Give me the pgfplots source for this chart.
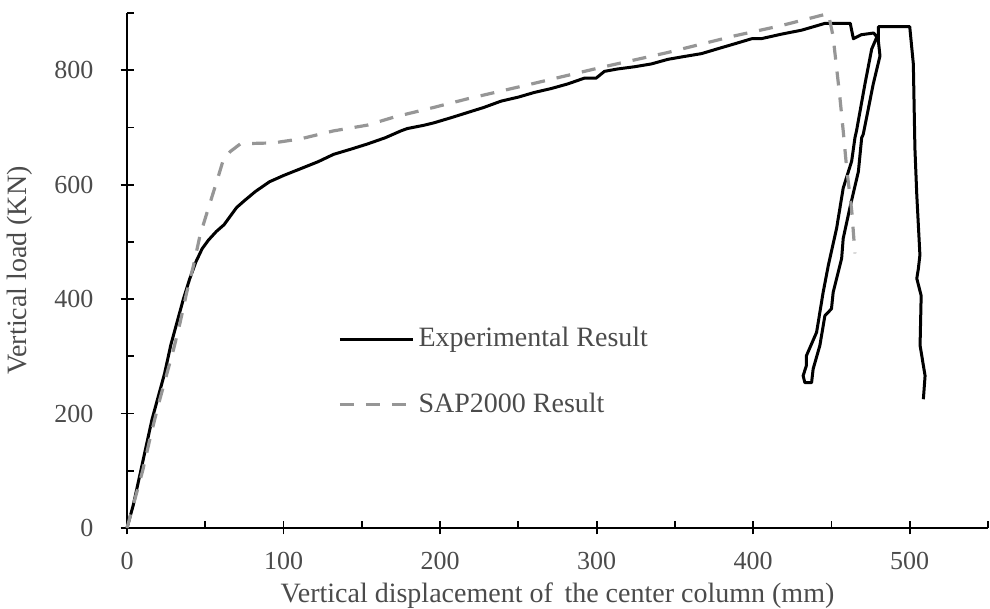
\documentclass[border=0pt]{standalone}
\usepackage{fontspec}
\setmainfont{Liberation Serif}
\usepackage{pgfplots}
\pgfplotsset{compat=1.18}

\definecolor{sapgray}{RGB}{150,150,150}
\definecolor{txtgray}{RGB}{75,75,75}

\begin{document}
\fontsize{13pt}{15pt}\selectfont
\begin{tikzpicture}
\begin{axis}[
  scale only axis,
  width=430.5pt, height=257.5pt,
  xmin=0, xmax=550, ymin=0, ymax=900,
  axis x line*=bottom, axis y line*=left,
  axis line style={-, line width=0.9pt},
  xtick={0,100,...,500}, ytick={0,200,...,800},
  minor xtick={50,150,...,550}, minor ytick={100,300,...,900},
  tick align=center,
  major tick length=6.5pt, minor tick length=3.5pt,
  every tick/.style={black, line width=0.9pt},
  minor x tick style={yshift=1.75pt},
  minor y tick style={xshift=1.75pt},
  tick label style={font=\fontsize{13pt}{15pt}\selectfont, text=txtgray},
  /pgf/number format/assume math mode=true,
  /pgf/number format/1000 sep={},
  xticklabel style={yshift=-4.5pt},
  yticklabel style={xshift=-9pt},
  xlabel={Vertical displacement of\, the center column (mm)},
  ylabel={Vertical load (KN)},
  label style={font=\fontsize{14pt}{16pt}\selectfont, text=txtgray},
  xlabel style={yshift=2.5pt},
  ylabel style={yshift=2pt},
  clip=false,
  legend style={draw=none, fill=none, at={(0.245,0.398)}, anchor=north west,
    font=\fontsize{14pt}{16pt}\selectfont, text=txtgray,
    row sep=17pt, inner sep=0pt},
  legend cell align=left,
  legend image code/.code={\draw[#1] (0pt,0pt) -- (36.5pt,0pt);},
]
% measured load-displacement response
\addplot[black, line width=1.5pt, line join=round] coordinates {
(0,0) (4,40) (8,90) (12,140) (16,190) (20,230) (24,270) (28,320) (32,360)
(36,400) (40,435) (44,465) (48,488) (52,503) (57,518) (62,530) (66,545)
(70,560) (75,572) (82,588) (91,605) (100,616) (111,628) (122,640) (132,653)
(143,662) (153.5,671) (165,682) (175,694) (179,698) (190,704) (196,708)
(207,717) (217.5,726) (228,735) (239,746) (250,753) (260,761) (271,768)
(281.5,776) (292,786) (299.6,786) (305,798) (313,802) (324,806) (335,811)
(345.5,819) (356,824) (367,829) (378,838) (388,846) (399,855) (405,855)
(418,863) (431,870) (446,882) (462,882) (464,855) (469,862) (477,865)
(479,858) (475.7,837) (471.4,776) (466,694) (465,682) (462.9,641)
(457.5,594) (453.3,524) (448,459) (444.7,412) (440.5,342) (434,301)
(434,284) (431.9,266) (433,254) (437.3,254) (438.3,278) (442.6,319)
(445.8,371) (450,383) (451.1,412) (456.5,471) (457.5,506) (461.8,560)
(467.2,623) (469.3,682) (470.3,688) (476.7,776) (481,825) (480,850)
(480,876) (500,876) (502.3,811) (503.3,664) (504.5,582) (506.5,477)
(505.5,453) (504.5,436) (507.3,406) (506.6,319) (509.8,266) (508.7,225)
};
\addlegendentry{Experimental Result}
% numerical model response
\addplot[sapgray, line width=1.6pt, dash pattern=on 7pt off 6pt] coordinates {
(0,0) (5,50) (10,100) (15,160) (20,215) (25,265) (30,315) (34,360)
(38,410) (42.5,459) (46.7,512) (52,559) (57.4,606) (61.7,645) (66,658)
(72.3,671) (80,672) (93.7,673) (110.8,680) (132,694) (153.5,704)
(170.5,718) (196,735) (217.5,750) (260,777) (303,805) (345.5,831)
(388,860) (418,878) (448,899) (451,860) (455.4,752) (457.5,694)
(459.7,629) (463,553) (465,480)
};
\addlegendentry{SAP2000 Result}
\coordinate (ll) at (rel axis cs:0,0);
\coordinate (ur) at (rel axis cs:1,1);
\end{axis}
% page frame around the axis and its labels
\pgfresetboundingbox
\useasboundingbox ([shift={(-63.5pt,-40.5pt)}]ll) rectangle ([shift={(1pt,6.5pt)}]ur);
\end{tikzpicture}
\end{document}
